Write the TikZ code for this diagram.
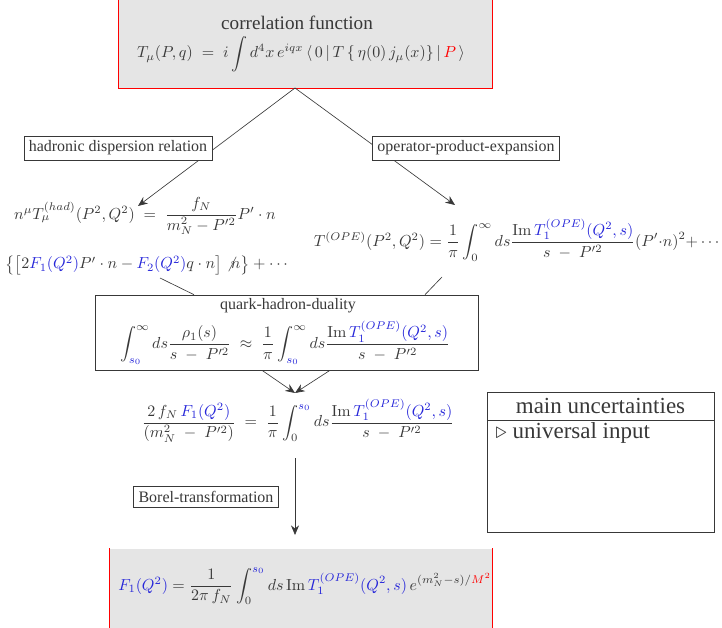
\documentclass[tikz,border=0pt]{standalone}
\usepackage{amsmath}
\usepackage[no-math]{fontspec}
\setmainfont{Liberation Serif}
\usetikzlibrary{arrows.meta}

\definecolor{fblue}{rgb}{0.15,0.15,0.85}
\definecolor{ink}{gray}{0.22}
\newcommand{\fb}[1]{\textcolor{fblue}{#1}}
\tikzset{
    label box/.style={draw=ink, fill=white, inner sep=3pt, text=ink},
    formula/.style={inner sep=1pt},
    flow/.style={draw=ink, -{Stealth[length=6pt,width=5pt]}},
    link/.style={draw=ink},
}

\begin{document}
\begin{tikzpicture}[x=0.022cm, y=-0.022cm, text=ink]
    \useasboundingbox (0,0) rectangle (722,628);
    \clip (0,0) rectangle (722,628);
    % top: correlation function (frame runs off the page at the top)
    \node[fill=black!10, draw=red, minimum width=8.23cm, minimum height=2.05cm] (corr) at (305,41.5) {};
    \node[formula] (corrtitle) at (297,23) {\large correlation function};
    \node[formula] (corrform) at (301,54) {$T_\mu(P,q)\;=\;i\displaystyle\int d^4x\,e^{iqx}\,\langle\,0\,|\,T\,\{\,\eta(0)\,j_\mu(x)\}\,|\,\textcolor{red}{P}\,\rangle$};
    \coordinate (apex) at (295,88);
    % the two branches
    \node[formula] (had) at (145,216) {$n^\mu T_\mu^{(had)}(P^2,Q^2)\;=\;\dfrac{f_N}{m_N^2-P'^2}P'\cdot n$};
    \node[formula] (hadtwo) at (148,265) {$\big\{\big[2\fb{F_1(Q^2)}P'\cdot n-\fb{F_2(Q^2)}q\cdot n\big]\not{n}\big\}+\cdots$};
    \node[formula] (ope) at (518,240) {$T^{(OPE)}(P^2,Q^2)=\dfrac{1}{\pi}\displaystyle\int_0^\infty ds\frac{\mathrm{Im}\,\fb{T_1^{(OPE)}(Q^2,s)}}{s\;-\;P'^2}(P'{\cdot}n)^2{+}\cdots$};
    \coordinate (hadtip) at (138,206);
    \coordinate (opetip) at (455,205);
    \draw[flow] (apex) -- (hadtip);
    \draw[flow] (apex) -- (opetip);
    \node[label box] (hadlabel) at (118,148) {hadronic dispersion relation};
    \node[label box] (opelabel) at (466,148) {operator-product-expansion};
    % duality
    \node[draw=ink, minimum width=8.43cm, minimum height=1.65cm] (dual) at (286.5,332.5) {};
    \node[formula] (dualtitle) at (288,306) {quark-hadron-duality};
    \node[formula] (dualform) at (285,343) {$\displaystyle\int_{\fb{s_0}}^\infty ds\frac{\rho_1(s)}{s\;-\;P'^2}\;\approx\;\frac{1}{\pi}\int_{\fb{s_0}}^\infty ds\frac{\mathrm{Im}\,\fb{T_1^{(OPE)}(Q^2,s)}}{s\;-\;P'^2}$};
    \coordinate (hadfoot) at (160,278);
    \coordinate (opefoot) at (442,277);
    \draw[link] (hadfoot) -- (dual.north west -| 194,0);
    \draw[link] (opefoot) -- (dual.north west -| 425,0);
    % merge
    \coordinate (merge) at (295,393);
    \draw[flow] (dual.south west -| 262,0) -- (merge);
    \draw[flow] (dual.south west -| 330,0) -- (merge);
    \node[formula] (sumrule) at (298,421) {$\dfrac{2\,f_N\,\fb{F_1(Q^2)}}{(m_N^2\;-\;P'^2)}\;=\;\dfrac{1}{\pi}\displaystyle\int_0^{\fb{s_0}} ds\frac{\mathrm{Im}\,\fb{T_1^{(OPE)}(Q^2,s)}}{s\;-\;P'^2}$};
    % Borel
    \coordinate (borelfrom) at (295,458);
    \coordinate (boreltip) at (295,535);
    \draw[flow] (borelfrom) -- (boreltip);
    \node[label box] (borel) at (206,497) {Borel-transformation};
    % result
    \node[fill=black!10, minimum width=8.4cm, minimum height=2.0cm] (result) at (301,594) {};
    \draw[red] (result.north west) -- (result.south west);
    \draw[red] (result.north east) -- (result.south east);
    \node[formula] (resform) at (305,586) {$\fb{F_1(Q^2)}=\dfrac{1}{2\pi\,f_N}\displaystyle\int_0^{\fb{s_0}}ds\,\mathrm{Im}\,\fb{T_1^{(OPE)}(Q^2,s)}\,e^{(m_N^2-s)/\textcolor{red}{M^2}}$};
    % uncertainties
    \node[draw=ink, minimum width=4.99cm, minimum height=3.08cm] (unc) at (600.5,462) {};
    \node[minimum height=0.616cm] (unchead) at (600.5,406) {\Large main uncertainties};
    \draw[ink] (unc.west |- unchead.south) -- (unc.east |- unchead.south);
    \node[anchor=west] (uncitem) at (490,433) {\Large $\triangleright$ universal input};
\end{tikzpicture}
\end{document}
